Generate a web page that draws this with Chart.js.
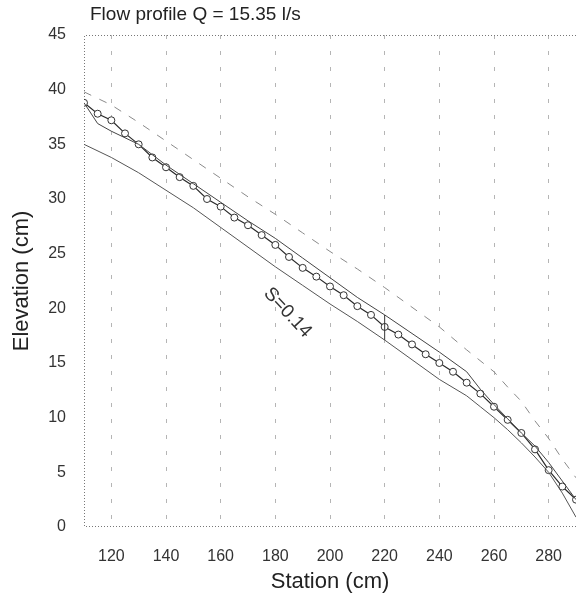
<!DOCTYPE html>
<html lang="en">
<head>
  <meta charset="UTF-8">
  <title>Flow profile</title>
  <script src="https://cdn.jsdelivr.net/npm/chart.js"></script>
  <style>
    html, body {
      margin: 0;
      padding: 0;
      background: #fff;
    }
    canvas {
      display: block;
    }
  </style>
</head>
<body>
  <canvas id="profileChart" width="576" height="601"></canvas>

  <script>
    const titleText = 'Flow profile Q = 15.35 l/s';
    const stationTicks = [120, 140, 160, 180, 200, 220, 240, 260, 280];

    // measured water surface (circles)
    const measuredStation = [110, 115, 120, 125, 130, 135, 140, 145, 150, 155, 160, 165, 170, 175, 180,
      185, 190, 195, 200, 205, 210, 215, 220, 225, 230, 235, 240, 245, 250, 255, 260, 265, 270, 275,
      280, 285, 290];
    const measuredElev = [38.8, 37.8, 37.2, 36.0, 35.0, 33.8, 32.9, 32.0, 31.2, 30.0, 29.3, 28.3, 27.6,
      26.7, 25.8, 24.7, 23.7, 22.9, 22.0, 21.2, 20.2, 19.4, 18.3, 17.6, 16.7, 15.8, 15.0, 14.2, 13.2,
      12.2, 11.0, 9.8, 8.6, 7.1, 5.2, 3.7, 2.5];

    // computed water surface
    const computedStation = [110, 115, 120, 125, 130, 140, 150, 160, 170, 180, 190, 200, 210, 220, 230,
      240, 250, 255, 260, 265, 270, 275, 280, 285, 290];
    const computedElev = [38.8, 36.9, 36.2, 35.6, 35.0, 33.1, 31.4, 29.7, 28.0, 26.4, 24.6, 22.8, 21.0,
      19.4, 17.7, 16.0, 14.2, 12.6, 11.2, 9.9, 8.6, 7.4, 5.9, 4.2, 2.5];

    // channel bed
    const bedStation = [110, 120, 130, 140, 150, 160, 170, 180, 190, 200, 210, 220, 230, 240, 250, 255,
      260, 265, 270, 275, 280, 285, 290];
    const bedElev = [35.0, 33.8, 32.4, 30.8, 29.2, 27.4, 25.6, 23.8, 22.1, 20.4, 18.8, 17.1, 15.3, 13.5,
      12.0, 11.0, 10.0, 8.9, 7.7, 6.4, 5.0, 3.1, 0.9];

    // energy line (dashed)
    const energyStation = [110, 120, 130, 140, 150, 160, 170, 180, 190, 200, 210, 220, 230, 240, 250,
      260, 265, 270, 275, 280, 285, 290];
    const energyElev = [39.8, 38.6, 37.0, 35.3, 33.6, 31.9, 30.2, 28.6, 26.9, 25.2, 23.6, 21.9, 20.1,
      18.3, 16.2, 14.2, 12.8, 11.5, 9.7, 8.1, 6.2, 4.5];

    // depth section at station 220
    const sectionStation = [220, 220];
    const sectionElev = [17.1, 19.4];

    const slopeText = 'S=0.14';
    const slopeAt = [184.5, 19.6];

    function pts(xs, ys) {
      return xs.map((v, i) => ({ x: v, y: ys[i] }));
    }

    const font = 'Arial, "Liberation Sans", sans-serif';

    // title, dotted frame and slope label
    const extras = {
      id: 'extras',
      beforeDatasetsDraw(chart) {
        const { ctx, chartArea: a } = chart;
        ctx.save();
        ctx.strokeStyle = '#777';
        ctx.lineWidth = 1;
        ctx.setLineDash([1, 2]);
        ctx.beginPath();
        ctx.moveTo(a.right, a.top + 0.5);
        ctx.lineTo(a.left + 0.5, a.top + 0.5);
        ctx.lineTo(a.left + 0.5, a.bottom - 0.5);
        ctx.lineTo(a.right, a.bottom - 0.5);
        ctx.stroke();
        ctx.restore();
      },
      afterDraw(chart) {
        const { ctx, chartArea: a, scales: { x, y } } = chart;
        ctx.save();
        ctx.fillStyle = '#222';
        ctx.font = '19px ' + font;
        ctx.textBaseline = 'middle';
        ctx.fillText(titleText, a.left + 6, 15);

        ctx.translate(x.getPixelForValue(slopeAt[0]), y.getPixelForValue(slopeAt[1]));
        ctx.rotate(47 * Math.PI / 180);
        ctx.textAlign = 'center';
        ctx.fillStyle = '#333';
        ctx.font = '19px ' + font;
        ctx.fillText(slopeText, 0, 0);
        ctx.restore();
      }
    };

    const ctx = document.getElementById('profileChart').getContext('2d');

    new Chart(ctx, {
      type: 'line',
      data: {
        datasets: [
          {
            label: 'Energy line',
            data: pts(energyStation, energyElev),
            borderColor: '#8a8a8a',
            borderWidth: 1,
            borderDash: [8, 9],
            pointRadius: 0
          },
          {
            label: 'Bed',
            data: pts(bedStation, bedElev),
            borderColor: '#555',
            borderWidth: 1,
            pointRadius: 0
          },
          {
            label: 'Section',
            data: pts(sectionStation, sectionElev),
            borderColor: '#333',
            borderWidth: 1,
            pointRadius: 0
          },
          {
            label: 'Computed',
            data: pts(computedStation, computedElev),
            borderColor: '#444',
            borderWidth: 1,
            pointRadius: 0
          },
          {
            label: 'Measured',
            data: pts(measuredStation, measuredElev),
            borderColor: '#2a2a2a',
            borderWidth: 1.2,
            pointRadius: 3.5,
            pointStyle: 'circle',
            pointBackgroundColor: '#fff',
            pointBorderColor: '#333',
            pointBorderWidth: 1
          }
        ]
      },
      options: {
        responsive: false,
        animation: false,
        layout: {
          autoPadding: false,
          padding: { top: 35, right: 0, bottom: 0, left: 0 }
        },
        elements: {
          line: { tension: 0 }
        },
        plugins: {
          legend: { display: false },
          tooltip: { enabled: false }
        },
        scales: {
          x: {
            type: 'linear',
            min: 110,
            max: 290,
            afterBuildTicks: (s) => { s.ticks = stationTicks.map(v => ({ value: v })); },
            afterFit: (s) => {
              s.height = 74;
              s.paddingLeft = 0;
              s.paddingRight = 0;
            },
            grid: { color: '#b5b5b5', lineWidth: 1, drawTicks: false },
            border: { display: false, dash: [4, 12] },
            ticks: {
              color: '#333',
              font: { size: 16, family: font },
              padding: 20,
              maxRotation: 0,
              autoSkip: false
            },
            title: {
              display: true,
              text: 'Station (cm)',
              color: '#222',
              font: { size: 22, family: font },
              padding: { top: 0, bottom: 6 }
            }
          },
          y: {
            min: 0,
            max: 45,
            afterFit: (s) => {
              s.width = 84;
              s.paddingTop = 0;
              s.paddingBottom = 0;
            },
            grid: { display: false },
            border: { display: false },
            ticks: {
              stepSize: 5,
              color: '#333',
              font: { size: 16, family: font },
              padding: 10
            },
            title: {
              display: true,
              text: 'Elevation (cm)',
              color: '#222',
              font: { size: 22, family: font },
              padding: { top: 9, bottom: 0 }
            }
          }
        }
      },
      plugins: [extras]
    });
  </script>
</body>
</html>
